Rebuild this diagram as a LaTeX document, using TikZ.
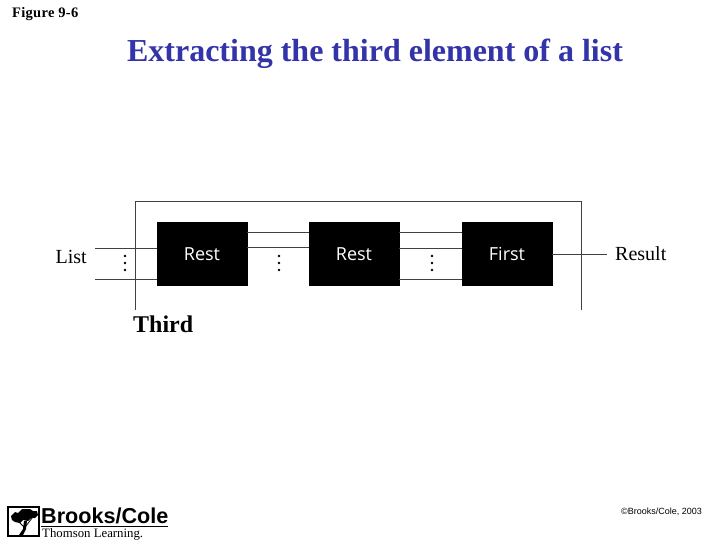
\documentclass[tikz,border=0pt]{standalone}
\usepackage{fontspec}
\setmainfont{Liberation Serif}
\newfontfamily\logofont{Liberation Sans}
\newfontfamily\boxfont{Open Sans}
\newfontfamily\figfont[LetterSpace=2]{Liberation Serif}
\usepackage{tikz}
\definecolor{titleblue}{RGB}{51,51,170}
\begin{document}
\begin{tikzpicture}[
                x=1pt,y=-1pt,
                main node/.style={rectangle,fill=black,draw=black,text=white,minimum width=90pt,minimum height=63pt,inner sep=0pt,text height=13pt,text depth=0pt,font=\boxfont\fontsize{18}{20}\selectfont},
                wire/.style={line width=0.9pt,black!75},
                label node/.style={inner sep=0pt,font=\fontsize{20}{22}\selectfont},
                dot node/.style={circle,fill=black,inner sep=0pt,minimum size=2.6pt},
                ]
                \useasboundingbox (0,0) rectangle (720,540);

                \node[anchor=west,inner sep=0pt,font=\figfont\bfseries\fontsize{14.5}{16}\selectfont] (figure) at (12,14) {Figure 9-6};
                \node[inner sep=0pt,text=titleblue,font=\bfseries\fontsize{32}{36}\selectfont] (title) at (375,54) {Extracting the third element of a list};

                \node[main node] (rest1) at (202,253.5) {Rest};
                \node[main node] (rest2) at (354,253.5) {Rest};
                \node[main node] (first) at (507,253.5) {First};

                \node[label node,anchor=east] (list) at (87,257) {List};
                \node[label node,anchor=west] (result) at (615,254) {Result};
                \node[inner sep=0pt,anchor=west,font=\bfseries\fontsize{24}{28}\selectfont] (third) at (133,324) {Third};

                \coordinate (frame a) at (135,310);
                \coordinate (frame b) at (135,201);
                \coordinate (frame c) at (581,201);
                \coordinate (frame d) at (581,310);
                \draw[wire] (frame a) -- (frame b) -- (frame c) -- (frame d);

                \coordinate (in a) at (95,248);
                \coordinate (in b) at (95,279);
                \coordinate (out) at (607,254);
                \draw[wire] (in a) -- (in a -| rest1.west);
                \draw[wire] (in b) -- (in b -| rest1.west);
                \draw[wire] (rest1.east |- 0,232) -- (rest2.west |- 0,232);
                \draw[wire] (rest1.east |- 0,247.5) -- (rest2.west |- 0,247.5);
                \draw[wire] (rest2.east |- 0,232) -- (first.west |- 0,232);
                \draw[wire] (rest2.east |- 0,248) -- (first.west |- 0,248);
                \draw[wire] (rest2.east |- 0,279) -- (first.west |- 0,279);
                \draw[wire] (first.east |- out) -- (out);

                \foreach \x/\name in {125/a,279/b,432/c}
                {
                    \node[dot node] (dots \name 1) at (\x,256) {};
                    \node[dot node] (dots \name 2) at (\x,263) {};
                    \node[dot node] (dots \name 3) at (\x,270) {};
                }

                % logo
                \draw[line width=1.2pt] (8,507) rectangle (39,536);
                \fill (11,516) -- (15,512) -- (18,513) -- (22,509) -- (30,509) -- (33,511) -- (37,511) -- (38,515) -- (35,518) -- (31,518) -- (28,521) -- (23,520) -- (20,523) -- (15,522) -- (12,520) -- cycle;
                \fill (19,535) -- (23,529) -- (24,521) -- (27,521) -- (26,529) -- (23,535) -- cycle;
                \draw[line width=0.8pt] (24,527) -- (19,522);
                \draw[line width=0.8pt] (26,526) -- (32,518);
                \node[inner sep=0pt,anchor=west,font=\logofont\bfseries\fontsize{21.6}{24}\selectfont] (brand) at (41,515.5) {Brooks/Cole};
                \draw[line width=1.2pt] (41,526.5) -- (168,526.5);
                \node[inner sep=0pt,anchor=west,font=\fontsize{12.8}{14}\selectfont] (thomson) at (42,534) {Thomson Learning.};
                \node[inner sep=0pt,anchor=east,font=\logofont\fontsize{9}{10}\selectfont] (copy) at (702,512) {©Brooks/Cole, 2003};
            \end{tikzpicture}
\end{document}
